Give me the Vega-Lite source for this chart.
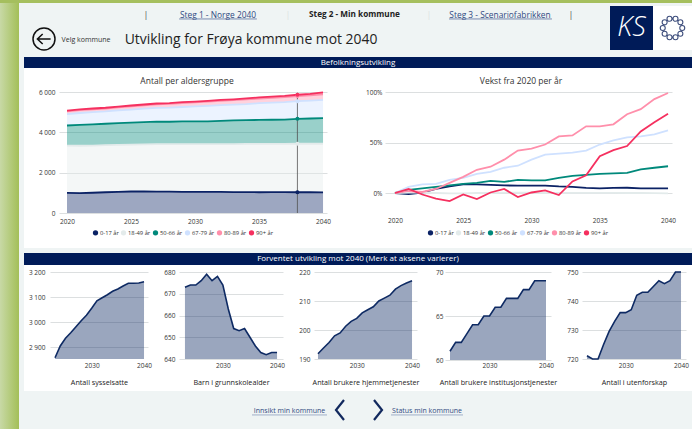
{"$schema":"https://vega.github.io/schema/vega-lite/v6.json","background":"#eff4f4","padding":0,"spacing":0,"config":{"view":{"stroke":null},"font":"Open Sans","concat":{"spacing":0},"axis":{"labelFont":"Open Sans","titleFont":"Open Sans","gridColor":"#dcdfe0","gridWidth":1,"ticks":false,"domain":false,"labelColor":"#333333","labelFontSize":6.5,"titleColor":"#222222","titleFontWeight":"normal","titleFontSize":7.2},"title":{"font":"Open Sans","fontWeight":"normal","fontSize":8.5,"color":"#333333"},"legend":{"labelFont":"Open Sans","labelFontSize":5.8,"labelColor":"#333333"}},
"datasets":{"bef":[
{"aar":2020,"gruppe":"0-17 år","antall":1000,"vekst":0},{"aar":2021,"gruppe":"0-17 år","antall":990,"vekst":-1},{"aar":2022,"gruppe":"0-17 år","antall":1005,"vekst":0.5},{"aar":2023,"gruppe":"0-17 år","antall":1030,"vekst":4},{"aar":2024,"gruppe":"0-17 år","antall":1050,"vekst":6.5},{"aar":2025,"gruppe":"0-17 år","antall":1065,"vekst":8.5},{"aar":2026,"gruppe":"0-17 år","antall":1065,"vekst":8.5},{"aar":2027,"gruppe":"0-17 år","antall":1060,"vekst":8},{"aar":2028,"gruppe":"0-17 år","antall":1055,"vekst":7.5},{"aar":2029,"gruppe":"0-17 år","antall":1050,"vekst":7.3},{"aar":2030,"gruppe":"0-17 år","antall":1050,"vekst":7.3},{"aar":2031,"gruppe":"0-17 år","antall":1050,"vekst":7.3},{"aar":2032,"gruppe":"0-17 år","antall":1045,"vekst":6.5},{"aar":2033,"gruppe":"0-17 år","antall":1040,"vekst":6},{"aar":2034,"gruppe":"0-17 år","antall":1035,"vekst":5},{"aar":2035,"gruppe":"0-17 år","antall":1030,"vekst":4.5},{"aar":2036,"gruppe":"0-17 år","antall":1035,"vekst":5},{"aar":2037,"gruppe":"0-17 år","antall":1035,"vekst":5.2},{"aar":2038,"gruppe":"0-17 år","antall":1030,"vekst":4.5},{"aar":2039,"gruppe":"0-17 år","antall":1030,"vekst":4.5},{"aar":2040,"gruppe":"0-17 år","antall":1025,"vekst":4.5},
{"aar":2020,"gruppe":"18-49 år","antall":2340,"vekst":0},{"aar":2021,"gruppe":"18-49 år","antall":2345,"vekst":0.5},{"aar":2022,"gruppe":"18-49 år","antall":2340,"vekst":0.3},{"aar":2023,"gruppe":"18-49 år","antall":2335,"vekst":0},{"aar":2024,"gruppe":"18-49 år","antall":2330,"vekst":-0.3},{"aar":2025,"gruppe":"18-49 år","antall":2330,"vekst":-0.3},{"aar":2026,"gruppe":"18-49 år","antall":2340,"vekst":0},{"aar":2027,"gruppe":"18-49 år","antall":2355,"vekst":0.2},{"aar":2028,"gruppe":"18-49 år","antall":2360,"vekst":0.3},{"aar":2029,"gruppe":"18-49 år","antall":2365,"vekst":0.3},{"aar":2030,"gruppe":"18-49 år","antall":2365,"vekst":0.3},{"aar":2031,"gruppe":"18-49 år","antall":2365,"vekst":0.2},{"aar":2032,"gruppe":"18-49 år","antall":2375,"vekst":0.2},{"aar":2033,"gruppe":"18-49 år","antall":2380,"vekst":0.2},{"aar":2034,"gruppe":"18-49 år","antall":2390,"vekst":0.2},{"aar":2035,"gruppe":"18-49 år","antall":2395,"vekst":0.2},{"aar":2036,"gruppe":"18-49 år","antall":2395,"vekst":0.1},{"aar":2037,"gruppe":"18-49 år","antall":2395,"vekst":0},{"aar":2038,"gruppe":"18-49 år","antall":2405,"vekst":0},{"aar":2039,"gruppe":"18-49 år","antall":2405,"vekst":-0.2},{"aar":2040,"gruppe":"18-49 år","antall":2410,"vekst":-0.3},
{"aar":2020,"gruppe":"50-66 år","antall":1000,"vekst":0},{"aar":2021,"gruppe":"50-66 år","antall":1030,"vekst":3},{"aar":2022,"gruppe":"50-66 år","antall":1045,"vekst":4.5},{"aar":2023,"gruppe":"50-66 år","antall":1060,"vekst":6},{"aar":2024,"gruppe":"50-66 år","antall":1075,"vekst":7.5},{"aar":2025,"gruppe":"50-66 år","antall":1090,"vekst":9},{"aar":2026,"gruppe":"50-66 år","antall":1100,"vekst":10},{"aar":2027,"gruppe":"50-66 år","antall":1120,"vekst":12},{"aar":2028,"gruppe":"50-66 år","antall":1110,"vekst":11},{"aar":2029,"gruppe":"50-66 år","antall":1130,"vekst":13},{"aar":2030,"gruppe":"50-66 år","antall":1125,"vekst":12.5},{"aar":2031,"gruppe":"50-66 år","antall":1125,"vekst":12.5},{"aar":2032,"gruppe":"50-66 år","antall":1150,"vekst":15},{"aar":2033,"gruppe":"50-66 år","antall":1170,"vekst":17},{"aar":2034,"gruppe":"50-66 år","antall":1180,"vekst":18},{"aar":2035,"gruppe":"50-66 år","antall":1190,"vekst":19},{"aar":2036,"gruppe":"50-66 år","antall":1195,"vekst":19.5},{"aar":2037,"gruppe":"50-66 år","antall":1200,"vekst":20},{"aar":2038,"gruppe":"50-66 år","antall":1235,"vekst":23.5},{"aar":2039,"gruppe":"50-66 år","antall":1250,"vekst":25},{"aar":2040,"gruppe":"50-66 år","antall":1265,"vekst":26.5},
{"aar":2020,"gruppe":"67-79 år","antall":560,"vekst":0},{"aar":2021,"gruppe":"67-79 år","antall":594,"vekst":6},{"aar":2022,"gruppe":"67-79 år","antall":608,"vekst":8.5},{"aar":2023,"gruppe":"67-79 år","antall":610,"vekst":9},{"aar":2024,"gruppe":"67-79 år","antall":633,"vekst":13},{"aar":2025,"gruppe":"67-79 år","antall":644,"vekst":15},{"aar":2026,"gruppe":"67-79 år","antall":666,"vekst":19},{"aar":2027,"gruppe":"67-79 år","antall":678,"vekst":21},{"aar":2028,"gruppe":"67-79 år","antall":700,"vekst":25},{"aar":2029,"gruppe":"67-79 år","antall":711,"vekst":27},{"aar":2030,"gruppe":"67-79 år","antall":745,"vekst":33},{"aar":2031,"gruppe":"67-79 år","antall":773,"vekst":38},{"aar":2032,"gruppe":"67-79 år","antall":778,"vekst":39},{"aar":2033,"gruppe":"67-79 år","antall":784,"vekst":40},{"aar":2034,"gruppe":"67-79 år","antall":795,"vekst":42},{"aar":2035,"gruppe":"67-79 år","antall":829,"vekst":48},{"aar":2036,"gruppe":"67-79 år","antall":851,"vekst":52},{"aar":2037,"gruppe":"67-79 år","antall":868,"vekst":55},{"aar":2038,"gruppe":"67-79 år","antall":874,"vekst":56},{"aar":2039,"gruppe":"67-79 år","antall":885,"vekst":58},{"aar":2040,"gruppe":"67-79 år","antall":907,"vekst":62},
{"aar":2020,"gruppe":"80-89 år","antall":140,"vekst":0},{"aar":2021,"gruppe":"80-89 år","antall":142,"vekst":2},{"aar":2022,"gruppe":"80-89 år","antall":144,"vekst":1},{"aar":2023,"gruppe":"80-89 år","antall":146,"vekst":4},{"aar":2024,"gruppe":"80-89 år","antall":154,"vekst":10},{"aar":2025,"gruppe":"80-89 år","antall":162,"vekst":16},{"aar":2026,"gruppe":"80-89 år","antall":172,"vekst":23},{"aar":2027,"gruppe":"80-89 år","antall":176,"vekst":26},{"aar":2028,"gruppe":"80-89 år","antall":186,"vekst":33},{"aar":2029,"gruppe":"80-89 år","antall":199,"vekst":42},{"aar":2030,"gruppe":"80-89 år","antall":202,"vekst":44},{"aar":2031,"gruppe":"80-89 år","antall":207,"vekst":48},{"aar":2032,"gruppe":"80-89 år","antall":218,"vekst":56},{"aar":2033,"gruppe":"80-89 år","antall":220,"vekst":57},{"aar":2034,"gruppe":"80-89 år","antall":232,"vekst":66},{"aar":2035,"gruppe":"80-89 år","antall":232,"vekst":66},{"aar":2036,"gruppe":"80-89 år","antall":235,"vekst":68},{"aar":2037,"gruppe":"80-89 år","antall":249,"vekst":78},{"aar":2038,"gruppe":"80-89 år","antall":256,"vekst":83},{"aar":2039,"gruppe":"80-89 år","antall":270,"vekst":93},{"aar":2040,"gruppe":"80-89 år","antall":279,"vekst":99},
{"aar":2020,"gruppe":"90+ år","antall":40,"vekst":0},{"aar":2021,"gruppe":"90+ år","antall":42,"vekst":4},{"aar":2022,"gruppe":"90+ år","antall":39,"vekst":-1.5},{"aar":2023,"gruppe":"90+ år","antall":38,"vekst":-5.5},{"aar":2024,"gruppe":"90+ år","antall":37,"vekst":-8},{"aar":2025,"gruppe":"90+ år","antall":39,"vekst":-1.5},{"aar":2026,"gruppe":"90+ år","antall":38,"vekst":-6},{"aar":2027,"gruppe":"90+ år","antall":40,"vekst":0.5},{"aar":2028,"gruppe":"90+ år","antall":42,"vekst":4},{"aar":2029,"gruppe":"90+ år","antall":38,"vekst":-4},{"aar":2030,"gruppe":"90+ år","antall":40,"vekst":0.5},{"aar":2031,"gruppe":"90+ år","antall":41,"vekst":2.5},{"aar":2032,"gruppe":"90+ år","antall":39,"vekst":-2},{"aar":2033,"gruppe":"90+ år","antall":45,"vekst":11.5},{"aar":2034,"gruppe":"90+ år","antall":47,"vekst":17.5},{"aar":2035,"gruppe":"90+ år","antall":55,"vekst":36.5},{"aar":2036,"gruppe":"90+ år","antall":57,"vekst":42.5},{"aar":2037,"gruppe":"90+ år","antall":59,"vekst":46.5},{"aar":2038,"gruppe":"90+ år","antall":64,"vekst":61},{"aar":2039,"gruppe":"90+ år","antall":68,"vekst":70},{"aar":2040,"gruppe":"90+ år","antall":99,"vekst":78.5}],
"sys":[{"aar":2023,"v":2857},{"aar":2024,"v":2904},{"aar":2025,"v":2935},{"aar":2026,"v":2957},{"aar":2027,"v":2981},{"aar":2028,"v":3005},{"aar":2029,"v":3027},{"aar":2030,"v":3055},{"aar":2031,"v":3085},{"aar":2032,"v":3097},{"aar":2033,"v":3109},{"aar":2034,"v":3123},{"aar":2035,"v":3132},{"aar":2036,"v":3144},{"aar":2037,"v":3155},{"aar":2038,"v":3155},{"aar":2039,"v":3156},{"aar":2040,"v":3161}],
"barn":[{"aar":2023,"v":673},{"aar":2024,"v":674},{"aar":2025,"v":674},{"aar":2026,"v":676},{"aar":2027,"v":679},{"aar":2028,"v":676},{"aar":2029,"v":678},{"aar":2030,"v":674},{"aar":2031,"v":663},{"aar":2032,"v":654},{"aar":2033,"v":653},{"aar":2034,"v":654},{"aar":2035,"v":650},{"aar":2036,"v":646},{"aar":2037,"v":643},{"aar":2038,"v":642},{"aar":2039,"v":643},{"aar":2040,"v":643}],
"hjem":[{"aar":2023,"v":191.8},{"aar":2024,"v":193.8},{"aar":2025,"v":195.7},{"aar":2026,"v":198},{"aar":2027,"v":199},{"aar":2028,"v":201.3},{"aar":2029,"v":203},{"aar":2030,"v":204},{"aar":2031,"v":205.9},{"aar":2032,"v":207},{"aar":2033,"v":208},{"aar":2034,"v":210},{"aar":2035,"v":211},{"aar":2036,"v":212},{"aar":2037,"v":214.1},{"aar":2038,"v":215.3},{"aar":2039,"v":216.2},{"aar":2040,"v":217}],
"inst":[{"aar":2023,"v":61},{"aar":2024,"v":62},{"aar":2025,"v":62},{"aar":2026,"v":63},{"aar":2027,"v":64},{"aar":2028,"v":64},{"aar":2029,"v":65},{"aar":2030,"v":65},{"aar":2031,"v":66},{"aar":2032,"v":66},{"aar":2033,"v":67},{"aar":2034,"v":67},{"aar":2035,"v":67},{"aar":2036,"v":68},{"aar":2037,"v":68},{"aar":2038,"v":69},{"aar":2039,"v":69},{"aar":2040,"v":69}],
"ute":[{"aar":2023,"v":721.1},{"aar":2024,"v":720},{"aar":2025,"v":720},{"aar":2026,"v":725},{"aar":2027,"v":729.5},{"aar":2028,"v":733},{"aar":2029,"v":736},{"aar":2030,"v":736},{"aar":2031,"v":737},{"aar":2032,"v":742},{"aar":2033,"v":743},{"aar":2034,"v":743},{"aar":2035,"v":745},{"aar":2036,"v":747},{"aar":2037,"v":746},{"aar":2038,"v":747},{"aar":2039,"v":750},{"aar":2040,"v":750}]},
"vconcat":[
{"width":692,"height":3,"view":{"fill":"#a5bf5e"},"data":{"values":[{}]},"mark":{"type":"text","text":"","fontSize":1}},
{"hconcat":[
 {"width":19,"height":426,"view":{"fill":{"gradient":"linear","x1":0,"x2":1,"y1":0,"y2":0,"stops":[{"offset":0,"color":"#c8d9a6"},{"offset":1,"color":"#a3bf58"}]}},"data":{"values":[{}]},"mark":{"type":"text","text":"","fontSize":1}},
 {"vconcat":[
  {"hconcat":[
   {"vconcat":[
    {"hconcat":[
     {"width":122,"height":21,"data":{"values":[{}]},"mark":{"type":"text","text":"","fontSize":1}},
     {"width":10,"height":21,"data":{"values":[{"t":"|"}]},"mark":{"type":"text","fontSize":9,"color":"#555555","dy":1.5},"encoding":{"text":{"field":"t"}}},
     {"width":134,"height":21,"data":{"values":[{"t":"Steg 1 - Norge 2040"}]},"layer":[{"mark":{"type":"text","fontSize":8.4,"color":"#2f4a82","dy":1.5},"encoding":{"text":{"field":"t"}}},{"mark":{"type":"rule","color":"#5a6f9e","strokeWidth":0.8},"encoding":{"x":{"datum":0.21,"scale":{"domain":[0,1]},"axis":null},"x2":{"datum":0.79},"y":{"datum":0.24,"scale":{"domain":[0,1]},"axis":null}}}]},
     {"width":6,"height":21,"data":{"values":[{"t":"|"}]},"mark":{"type":"text","fontSize":9,"color":"#dde3e3","dy":1.5},"encoding":{"text":{"field":"t"}}},
     {"width":127,"height":21,"data":{"values":[{"t":"Steg 2 - Min kommune"}]},"mark":{"type":"text","fontSize":8.2,"fontWeight":"bold","color":"#222222","dy":1.5},"encoding":{"text":{"field":"t"}}},
     {"width":8,"height":21,"data":{"values":[{}]},"mark":{"type":"text","text":"","fontSize":1}},
     {"width":6,"height":21,"data":{"values":[{"t":"|"}]},"mark":{"type":"text","fontSize":9,"color":"#dde3e3","dy":1.5},"encoding":{"text":{"field":"t"}}},
     {"width":136,"height":21,"data":{"values":[{"t":"Steg 3 - Scenariofabrikken"}]},"layer":[{"mark":{"type":"text","fontSize":8.4,"color":"#2f4a82","dy":1.5},"encoding":{"text":{"field":"t"}}},{"mark":{"type":"rule","color":"#5a6f9e","strokeWidth":0.8},"encoding":{"x":{"datum":0.125,"scale":{"domain":[0,1]},"axis":null},"x2":{"datum":0.882},"y":{"datum":0.24,"scale":{"domain":[0,1]},"axis":null}}}]},
     {"width":6,"height":21,"data":{"values":[{"t":"|"}]},"mark":{"type":"text","fontSize":9,"color":"#555555","dy":1.5},"encoding":{"text":{"field":"t"}}},
     {"width":36,"height":21,"data":{"values":[{}]},"mark":{"type":"text","text":"","fontSize":1}}
    ],"spacing":0,"bounds":"flush"},
    {"hconcat":[
     {"width":50,"height":30,"data":{"values":[{"k":"tilbake"}]},"mark":{"type":"point","filled":false,"size":484,"color":"#111111","strokeWidth":1.5,"opacity":1,"dy":1,"shape":"M-1,0 A1,1 0 1,1 1,0 A1,1 0 1,1 -1,0 Z M0.6,0 L-0.6,0 M-0.12,-0.45 L-0.6,0 L-0.12,0.45"}},
     {"width":34,"height":30,"data":{"values":[{"t":"Velg kommune"}]},"mark":{"type":"text","fontSize":7,"color":"#333333","dy":1},"encoding":{"text":{"field":"t"}}},
     {"width":296,"height":30,"data":{"values":[{"t":"Utvikling for Frøya kommune mot 2040"}]},"mark":{"type":"text","fontSize":13.9,"color":"#222222","dy":1},"encoding":{"text":{"field":"t"}}},
     {"width":211,"height":30,"data":{"values":[{}]},"mark":{"type":"text","text":"","fontSize":1}}
    ],"spacing":0,"bounds":"flush"},
    {"width":591,"height":3,"data":{"values":[{}]},"mark":{"type":"text","text":"","fontSize":1}}
   ],"spacing":0},
   {"vconcat":[
    {"width":43,"height":3,"data":{"values":[{}]},"mark":{"type":"text","text":"","fontSize":1}},
    {"width":43,"height":44,"view":{"fill":"#001b58"},"data":{"values":[{"t":"KS"}]},"mark":{"type":"text","fontSize":27,"fontStyle":"italic","font":"Open Sans","fontWeight":300,"color":"#ffffff"},"encoding":{"text":{"field":"t"}}},
    {"width":43,"height":7,"data":{"values":[{}]},"mark":{"type":"text","text":"","fontSize":1}}
   ],"spacing":0},
   {"vconcat":[
    {"width":39,"height":3,"data":{"values":[{}]},"mark":{"type":"text","text":"","fontSize":1}},
    {"width":39,"height":44,"view":{"fill":"#ffffff"},"data":{"values":[{"k":"ring"}]},"mark":{"type":"point","filled":false,"size":625,"color":"#3f4f7d","opacity":1,"strokeWidth":1.1,"shape":"M0.58,0 A0.2,0.2 0 1,0 0.98,0 A0.2,0.2 0 1,0 0.58,0 Z M0.43,0.46 A0.2,0.2 0 1,0 0.83,0.46 A0.2,0.2 0 1,0 0.43,0.46 Z M0.04,0.74 A0.2,0.2 0 1,0 0.44,0.74 A0.2,0.2 0 1,0 0.04,0.74 Z M-0.44,0.74 A0.2,0.2 0 1,0 -0.04,0.74 A0.2,0.2 0 1,0 -0.44,0.74 Z M-0.83,0.46 A0.2,0.2 0 1,0 -0.43,0.46 A0.2,0.2 0 1,0 -0.83,0.46 Z M-0.98,0 A0.2,0.2 0 1,0 -0.58,0 A0.2,0.2 0 1,0 -0.98,0 Z M-0.83,-0.46 A0.2,0.2 0 1,0 -0.43,-0.46 A0.2,0.2 0 1,0 -0.83,-0.46 Z M-0.44,-0.74 A0.2,0.2 0 1,0 -0.04,-0.74 A0.2,0.2 0 1,0 -0.44,-0.74 Z M0.04,-0.74 A0.2,0.2 0 1,0 0.44,-0.74 A0.2,0.2 0 1,0 0.04,-0.74 Z M0.43,-0.46 A0.2,0.2 0 1,0 0.83,-0.46 A0.2,0.2 0 1,0 0.43,-0.46 Z"}},
    {"width":39,"height":7,"data":{"values":[{}]},"mark":{"type":"text","text":"","fontSize":1}}
   ],"spacing":0}
  ],"spacing":0},
  {"hconcat":[
   {"width":5,"height":372,"data":{"values":[{}]},"mark":{"type":"text","text":"","fontSize":1}},
   {"vconcat":[
    {"width":668,"height":11,"view":{"fill":"#001b58"},"data":{"values":[{"t":"Befolkningsutvikling"}]},"mark":{"type":"text","fontSize":8,"color":"#ffffff"},"encoding":{"text":{"field":"t"}}},
    {"hconcat":[
     {"width":326,"height":180,"view":{"fill":"#ffffff"},"title":{"text":"Antall per aldersgruppe","offset":-17,"anchor":"middle"},"data":{"name":"bef"},"resolve":{"legend":{"color":"independent"}},
      "encoding":{"x":{"field":"aar","type":"quantitative","scale":{"domain":[2019.375,2040.31],"range":[35,303],"nice":false,"zero":false},"axis":{"values":[2020,2025,2030,2035,2040],"format":"d","title":null,"grid":false,"offset":-35,"labelPadding":5}},"color":{"field":"gruppe","type":"nominal","scale":{"domain":["0-17 år","18-49 år","50-66 år","67-79 år","80-89 år","90+ år"],"range":["#0b2265","#e3ebeb","#00897b","#cfe1ff","#ff8fab","#f5305f"]},"legend":null},"order":{"field":"gruppe","sort":"ascending"}},
      "layer":[
       {"mark":{"type":"area","opacity":0.4},"encoding":{"y":{"field":"antall","type":"quantitative","stack":"zero","scale":{"domain":[0,6000],"range":[145,24],"nice":false},"axis":{"values":[0,2000,4000,6000],"labelExpr":"replace(format(datum.value,','),',',' ')","title":null,"offset":-35,"labelPadding":4}}}},
       {"mark":{"type":"line","strokeWidth":1.8},"encoding":{"y":{"field":"antall","type":"quantitative","stack":"zero"}}},
       {"transform":[{"filter":"datum.aar==2038"}],"mark":{"type":"rule","color":"#555555","strokeWidth":1,"opacity":0.2},"encoding":{"y":{"datum":0},"y2":{"datum":5960},"color":{"value":"#555555"}}},
       {"transform":[{"filter":"datum.aar==2038"}],"mark":{"type":"point","filled":true,"opacity":1,"size":16},"encoding":{"y":{"field":"antall","type":"quantitative","stack":"zero"},"color":{"field":"gruppe","type":"nominal","legend":{"title":null,"orient":"none","legendX":68,"legendY":161,"direction":"horizontal","columns":6,"symbolType":"circle","symbolSize":28,"columnPadding":1,"labelOffset":1}}}}
      ]},
     {"width":342,"height":180,"view":{"fill":"#ffffff"},"title":{"text":"Vekst fra 2020 per år","offset":-17,"anchor":"middle"},"data":{"name":"bef"},"resolve":{"legend":{"color":"independent"}},
      "encoding":{"x":{"field":"aar","type":"quantitative","scale":{"domain":[2019.27,2040.29],"range":[35,322],"nice":false,"zero":false},"axis":{"values":[2020,2025,2030,2035,2040],"format":"d","title":null,"grid":false,"offset":-35,"labelPadding":4}},"color":{"field":"gruppe","type":"nominal","scale":{"domain":["0-17 år","18-49 år","50-66 år","67-79 år","80-89 år","90+ år"],"range":["#0b2265","#e3ebeb","#00897b","#cfe1ff","#ff8fab","#f5305f"]},"legend":null},"y":{"field":"vekst","type":"quantitative","scale":{"domain":[-19.8,100],"range":[145,24],"nice":false,"zero":false},"axis":{"values":[0,50,100],"labelExpr":"datum.value+'%'","title":null,"offset":-35,"labelPadding":3}}},
      "layer":[
       {"mark":{"type":"line","strokeWidth":1.8}},
       {"transform":[{"filter":"datum.aar==2020"}],"mark":{"type":"point","filled":true,"opacity":1,"size":0},"encoding":{"color":{"field":"gruppe","type":"nominal","legend":{"title":null,"orient":"none","legendX":77,"legendY":161,"direction":"horizontal","columns":6,"symbolType":"circle","symbolSize":28,"columnPadding":1,"labelOffset":1}}}}
      ]}
    ],"spacing":0,"bounds":"flush"},
    {"width":668,"height":5,"data":{"values":[{}]},"mark":{"type":"text","text":"","fontSize":1}},
    {"width":668,"height":12,"view":{"fill":"#001b58"},"data":{"values":[{"t":"Forventet utvikling mot 2040 (Merk at aksene varierer)"}]},"mark":{"type":"text","fontSize":8,"color":"#ffffff"},"encoding":{"text":{"field":"t"}}},
    {"hconcat":[
     {"width":138,"height":126,"view":{"fill":"#ffffff"},"data":{"name":"sys"},"mark":{"type":"area","color":"#0e2a63","opacity":0.42,"line":{"color":"#0e2a63","opacity":1,"strokeWidth":1.6}},"encoding":{"x":{"field":"aar","type":"quantitative","scale":{"domain":[2022.04,2040.76],"range":[26,124],"nice":false,"zero":false},"axis":{"values":[2030,2040],"format":"d","title":"Antall sysselsatte","grid":false,"offset":-32,"labelPadding":3,"titlePadding":10}},"y":{"field":"v","type":"quantitative","scale":{"domain":[2852,3200],"range":[94,7],"nice":false,"zero":false},"axis":{"values":[2900,3000,3100,3200],"labelExpr":"replace(format(datum.value,','),',',' ')","title":null,"offset":-26,"labelPadding":5}},"y2":{"datum":2852}}},
     {"width":137,"height":126,"view":{"fill":"#ffffff"},"data":{"name":"barn"},"mark":{"type":"area","color":"#0e2a63","opacity":0.42,"line":{"color":"#0e2a63","opacity":1,"strokeWidth":1.6}},"encoding":{"x":{"field":"aar","type":"quantitative","scale":{"domain":[2021.9,2041.1],"range":[17,121],"nice":false,"zero":false},"axis":{"values":[2030,2040],"format":"d","title":"Barn i grunnskolealder","grid":false,"offset":-32,"labelPadding":3,"titlePadding":10}},"y":{"field":"v","type":"quantitative","scale":{"domain":[640,680],"range":[94,7],"nice":false,"zero":false},"axis":{"values":[640,650,660,670,680],"format":"d","title":null,"offset":-17,"labelPadding":4}},"y2":{"datum":640}}},
     {"width":140,"height":126,"view":{"fill":"#ffffff"},"data":{"name":"hjem"},"mark":{"type":"area","color":"#0e2a63","opacity":0.42,"line":{"color":"#0e2a63","opacity":1,"strokeWidth":1.6}},"encoding":{"x":{"field":"aar","type":"quantitative","scale":{"domain":[2022.28,2040.9],"range":[15,118],"nice":false,"zero":false},"axis":{"values":[2030,2040],"format":"d","title":"Antall brukere hjemmetjenester","grid":false,"offset":-32,"labelPadding":3,"titlePadding":10}},"y":{"field":"v","type":"quantitative","scale":{"domain":[190,220],"range":[94,7],"nice":false,"zero":false},"axis":{"values":[190,200,210,220],"format":"d","title":null,"offset":-15,"labelPadding":4}},"y2":{"datum":190}}},
     {"width":130,"height":126,"view":{"fill":"#ffffff"},"data":{"name":"inst"},"mark":{"type":"area","color":"#0e2a63","opacity":0.42,"line":{"color":"#0e2a63","opacity":1,"strokeWidth":1.6}},"encoding":{"x":{"field":"aar","type":"quantitative","scale":{"domain":[2022.115,2040.885],"range":[6,112],"nice":false,"zero":false},"axis":{"values":[2030,2040],"format":"d","title":"Antall brukere institusjonstjenester","grid":false,"offset":-32,"labelPadding":3,"titlePadding":10}},"y":{"field":"v","type":"quantitative","scale":{"domain":[60,70],"range":[95,7],"nice":false,"zero":false},"axis":{"values":[60,65,70],"format":"d","title":null,"offset":-6,"labelPadding":2}},"y2":{"datum":60}}},
     {"width":123,"height":126,"view":{"fill":"#ffffff"},"data":{"name":"ute"},"mark":{"type":"area","color":"#0e2a63","opacity":0.42,"line":{"color":"#0e2a63","opacity":1,"strokeWidth":1.6}},"encoding":{"x":{"field":"aar","type":"quantitative","scale":{"domain":[2022.1,2040.9],"range":[13,117],"nice":false,"zero":false},"axis":{"values":[2030,2040],"format":"d","title":"Antall i utenforskap","grid":false,"offset":-32,"labelPadding":3,"titlePadding":10}},"y":{"field":"v","type":"quantitative","scale":{"domain":[720,750],"range":[94,7],"nice":false,"zero":false},"axis":{"values":[720,730,740,750],"format":"d","title":null,"offset":-13,"labelPadding":4}},"y2":{"datum":720}}}
    ],"spacing":0,"bounds":"flush"},
    {"hconcat":[
     {"width":228,"height":38,"data":{"values":[{}]},"mark":{"type":"text","text":"","fontSize":1}},
     {"width":75,"height":38,"data":{"values":[{"t":"Innsikt min kommune"}]},"layer":[{"mark":{"type":"text","fontSize":7,"color":"#2f4a82","dy":1},"encoding":{"text":{"field":"t"}}},{"mark":{"type":"rule","color":"#8e9dbd","strokeWidth":0.8},"encoding":{"y":{"datum":0.37,"scale":{"domain":[0,1]},"axis":null}}}]},
     {"width":26,"height":38,"data":{"values":[{"k":"forrige"}]},"mark":{"type":"point","filled":false,"size":400,"opacity":1,"color":"#12295e","strokeWidth":2.2,"dy":2,"shape":"M0.4,-1 L-0.4,0 L0.4,1"}},
     {"width":12,"height":38,"data":{"values":[{}]},"mark":{"type":"text","text":"","fontSize":1}},
     {"width":26,"height":38,"data":{"values":[{"k":"neste"}]},"mark":{"type":"point","filled":false,"size":400,"opacity":1,"color":"#12295e","strokeWidth":2.2,"dy":2,"shape":"M-0.4,-1 L0.4,0 L-0.4,1"}},
     {"width":72,"height":38,"data":{"values":[{"t":"Status min kommune"}]},"layer":[{"mark":{"type":"text","fontSize":7,"color":"#2f4a82","dy":1},"encoding":{"text":{"field":"t"}}},{"mark":{"type":"rule","color":"#8e9dbd","strokeWidth":0.8},"encoding":{"y":{"datum":0.37,"scale":{"domain":[0,1]},"axis":null}}}]},
     {"width":229,"height":38,"data":{"values":[{}]},"mark":{"type":"text","text":"","fontSize":1}}
    ],"spacing":0,"bounds":"flush"}
   ],"spacing":0}
  ],"spacing":0}
 ],"spacing":0}
],"spacing":0}
]}
